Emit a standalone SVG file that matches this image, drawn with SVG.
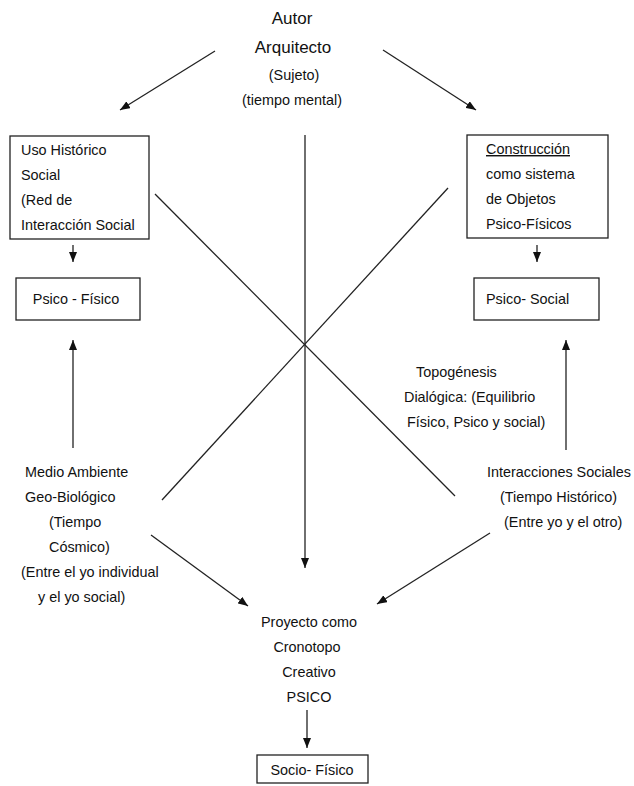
<svg xmlns="http://www.w3.org/2000/svg" width="634" height="786" viewBox="0 0 634 786">
<defs>
<style>
text{font-family:"Liberation Sans",Arial,sans-serif;font-size:14.4px;fill:#111}
.t{font-size:17px}
.c{text-anchor:middle}
.box{fill:none;stroke:#222;stroke-width:1.3}
.ln{stroke:#222;stroke-width:1.3;fill:none}
.ar{stroke:#222;stroke-width:1.3;fill:none;marker-end:url(#ah)}
</style>
<marker id="ah" markerUnits="userSpaceOnUse" markerWidth="11" markerHeight="8" refX="10" refY="4" orient="auto">
<path d="M0,0 L10,4 L0,8 z" fill="#111"/>
</marker>
</defs>
<rect width="634" height="786" fill="#fff"/>

<g id="autor">
<text class="t c" x="292" y="24">Autor</text>
<text class="t c" x="293" y="53">Arquitecto</text>
<text class="c" x="294" y="80">(Sujeto)</text>
<text class="c" x="292" y="105">(tiempo mental)</text>
</g>

<g id="uso-historico">
<rect class="box" x="10" y="136" width="139" height="103"/>
<text x="21" y="155">Uso Histórico</text>
<text x="21" y="180">Social</text>
<text x="21" y="205">(Red de</text>
<text x="21" y="230">Interacción Social</text>
</g>

<g id="construccion">
<rect class="box" x="467" y="135" width="141" height="103"/>
<text x="486" y="154" text-decoration="underline">Construcción</text>
<text x="486" y="179">como sistema</text>
<text x="486" y="204">de Objetos</text>
<text x="486" y="229">Psico-Físicos</text>
</g>

<g id="psico-fisico">
<rect class="box" x="16" y="278" width="124" height="42"/>
<text class="c" x="76" y="304">Psico - Físico</text>
</g>

<g id="psico-social">
<rect class="box" x="474" y="278" width="125" height="42"/>
<text x="486" y="304">Psico- Social</text>
</g>

<g id="topogenesis">
<text x="416" y="377">Topogénesis</text>
<text x="404" y="402">Dialógica: (Equilibrio</text>
<text x="407" y="427">Físico, Psico y social)</text>
</g>

<g id="medio-ambiente">
<text x="25" y="477">Medio Ambiente</text>
<text x="25" y="502">Geo-Biológico</text>
<text x="49" y="527">(Tiempo</text>
<text x="49" y="552">Cósmico)</text>
<text x="21" y="577">(Entre el yo individual</text>
<text x="38" y="602">y el yo social)</text>
</g>

<g id="interacciones">
<text x="487" y="477">Interacciones Sociales</text>
<text x="500" y="502">(Tiempo Histórico)</text>
<text x="504" y="527">(Entre yo y el otro)</text>
</g>

<g id="proyecto">
<text class="c" x="309" y="627">Proyecto como</text>
<text class="c" x="307" y="652">Cronotopo</text>
<text class="c" x="309" y="677">Creativo</text>
<text class="c" x="309" y="702">PSICO</text>
</g>

<g id="socio-fisico">
<rect class="box" x="257" y="755" width="111" height="28"/>
<text class="c" x="312" y="775">Socio- Físico</text>
</g>

<g id="connectors">
<line class="ar" x1="215" y1="51" x2="120" y2="110"/>
<line class="ar" x1="383" y1="50" x2="476" y2="110"/>
<line class="ar" x1="73" y1="245" x2="73" y2="262"/>
<line class="ar" x1="537" y1="245" x2="537" y2="262"/>
<line class="ar" x1="73" y1="448" x2="73" y2="340"/>
<line class="ar" x1="566" y1="450" x2="566" y2="340"/>
<line class="ar" x1="305" y1="135" x2="305" y2="568"/>
<line class="ln" x1="155" y1="194" x2="455" y2="496"/>
<line class="ln" x1="448" y1="188" x2="162" y2="500"/>
<line class="ar" x1="151" y1="535" x2="248" y2="606"/>
<line class="ar" x1="490" y1="533" x2="377" y2="604"/>
<line class="ar" x1="307" y1="710" x2="307" y2="748"/>
</g>
</svg>
